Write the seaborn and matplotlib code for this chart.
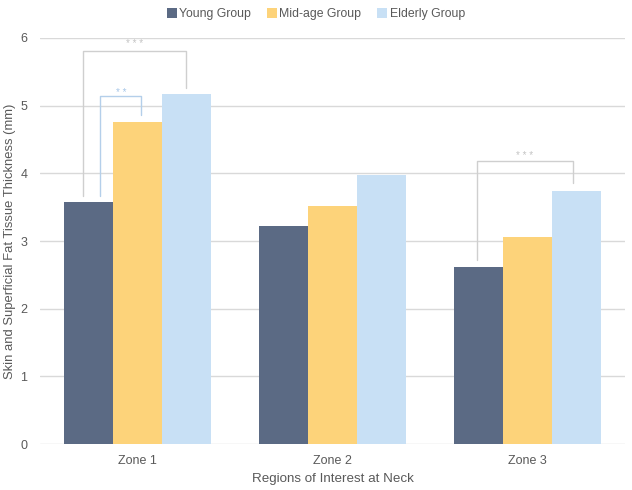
import matplotlib
matplotlib.use("Agg")
import matplotlib.pyplot as plt
import seaborn as sns
import pandas as pd
from matplotlib.lines import Line2D

zones = ["Zone 1", "Zone 2", "Zone 3"]
groups = ["Young Group", "Mid-age Group", "Elderly Group"]
young = [3.58, 3.22, 2.61]
midage = [4.76, 3.52, 3.06]
elderly = [5.17, 3.98, 3.74]
colors = ["#5B6A84", "#FDD37A", "#C8E0F5"]

rows = []
for g, vals in zip(groups, [young, midage, elderly]):
    for z, v in zip(zones, vals):
        rows.append({"Zone": z, "Group": g, "Value": v})
df = pd.DataFrame(rows)

sns.set_theme(style="white")
plt.rcParams["font.family"] = ["Liberation Sans", "DejaVu Sans"]
text_col = "#595959"
grid_col = "#D9D9D9"

fig = plt.figure(figsize=(6.32, 4.90), dpi=100)
ax = fig.add_axes([40/632, 1 - 444/490, 585/632, 406/490])

sns.barplot(data=df, x="Zone", y="Value", hue="Group", order=zones, hue_order=groups,
            palette=colors, width=0.75, gap=0, linewidth=0, saturation=1, ax=ax,
            legend=False, zorder=3)

ax.set_ylim(0, 6)
ax.set_xlim(-0.5, 2.5)
ax.set_yticks(range(0, 7))
ax.yaxis.grid(True, color=grid_col, linewidth=1, zorder=0)
ax.set_axisbelow(True)
for s in ["top", "right", "left", "bottom"]:
    ax.spines[s].set_visible(False)
ax.tick_params(axis="both", length=0, colors=text_col, labelsize=9)
ax.tick_params(axis="x", pad=8)
ax.tick_params(axis="y", pad=9)
ax.set_xlabel("Regions of Interest at Neck", color=text_col, fontsize=9.6, labelpad=4)
ax.set_ylabel("Skin and Superficial Fat Tissue Thickness (mm)", color=text_col, fontsize=9.4, labelpad=3)

bw = 0.25
def bracket(x1, x2, y_top, y1, y2, color, stars, sy, scolor):
    ax.plot([x1, x1, x2, x2], [y1, y_top, y_top, y2], color=color, lw=1, zorder=4, clip_on=False)
    ax.text((x1 + x2) / 2, sy, stars, ha="center", va="center", color=scolor, fontsize=7, zorder=5)

gray = "#CFCFCF"
blue = "#B4CFEA"
# Zone 1: young vs elderly (***)
bracket(0 - bw - 0.03, 0 + bw, elderly[0] + 0.64, young[0] + 0.08, elderly[0] + 0.09, gray, "* * *", elderly[0] + 0.74, "#C4C4C4")
# Zone 1: young vs mid (**)
bracket(0 - bw + 0.06, 0 + 0.02, midage[0] + 0.38, young[0] + 0.08, midage[0] + 0.10, blue, "* *", midage[0] + 0.42, "#A6C6E8")
# Zone 3: young vs elderly (***)
bracket(2 - bw - 0.01, 2 + bw - 0.015, elderly[2] + 0.44, young[2] + 0.11, elderly[2] + 0.12, gray, "* * *", elderly[2] + 0.52, "#C4C4C4")

handles = [Line2D([0], [0], marker="s", linestyle="", markersize=6.5, markerfacecolor=c,
                  markeredgewidth=0) for c in colors]
fig.legend(handles, groups, loc="upper center", bbox_to_anchor=(0.5, 1.006), ncol=3,
           frameon=False, fontsize=8.8, labelcolor=text_col, handletextpad=0.2,
           columnspacing=1.3, handlelength=0.8)

fig.savefig("out.png", dpi=100, facecolor="white")
